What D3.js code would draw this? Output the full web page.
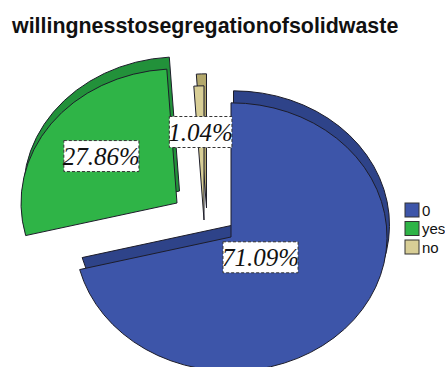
<!DOCTYPE html>
<html>
<head>
<meta charset="utf-8">
<script src="https://cdn.jsdelivr.net/npm/d3@7"></script>
<style>
  body { margin: 0; background: #fff; }
  svg { display: block; }
</style>
</head>
<body>
<div id="chart"></div>
<script>
// data
var categories = ["0", "yes", "no"];
var percents = [71.09, 27.86, 1.04];
var labels = ["71.09%", "27.86%", "1.04%"];

var colors = ["#3d55a9", "#2fb447", "#d8ce96"];
var sideColors = ["#2e4389", "#22913a", "#b3a86c"];

var w = 445, h = 367;
var cx = 231, cy = 237;      // main face centre of the unexploded slice
var rx = 156, yScaleFactor = 0.86;
var depthX = 2.5, depthY = -12;
// how far each slice is pulled out (layout only)
var explode = [[0, 0], [-54, -34], [-27, -17]];
var labelRadius = [0.24, 0.6, 0.66];

var svg = d3.select("#chart").append("svg")
  .attr("width", w)
  .attr("height", h);

svg.append("text")
  .attr("x", 12)
  .attr("y", 33)
  .attr("font-family", "Liberation Sans, Arial, sans-serif")
  .attr("font-weight", "bold")
  .attr("font-size", 21.4)
  .attr("fill", "#111")
  .text("willingnesstosegregationofsolidwaste");

var pie = d3.pie().sort(null).value(function(d) { return d; });
var arcs = pie(percents);

var arc = d3.arc().innerRadius(0).outerRadius(rx);

var slices = svg.selectAll("g.slice")
  .data(arcs)
  .enter()
  .append("g")
  .attr("class", "slice");

// side (depth) face, drawn first
slices.append("path")
  .attr("transform", function(d, i) {
    return "translate(" + (cx + explode[i][0] + depthX) + "," + (cy + explode[i][1] + depthY) + ") scale(1," + yScaleFactor + ")";
  })
  .attr("d", arc)
  .attr("fill", function(d, i) { return sideColors[i]; })
  .attr("stroke", "#1d1d2a")
  .attr("stroke-width", 1)
  .attr("vector-effect", "non-scaling-stroke");

// top face
slices.append("path")
  .attr("transform", function(d, i) {
    return "translate(" + (cx + explode[i][0]) + "," + (cy + explode[i][1]) + ") scale(1," + yScaleFactor + ")";
  })
  .attr("d", arc)
  .attr("fill", function(d, i) { return colors[i]; })
  .attr("stroke", "#1d1d2a")
  .attr("stroke-width", 1)
  .attr("vector-effect", "non-scaling-stroke");

// percent labels
arcs.forEach(function(d, i) {
  var mid = (d.startAngle + d.endAngle) / 2;
  var r = rx * labelRadius[i];
  var lx = cx + explode[i][0] + Math.sin(mid) * r;
  var ly = cy + explode[i][1] - Math.cos(mid) * r * yScaleFactor;

  var g = svg.append("g");
  var rect = g.append("rect");
  var t = g.append("text")
    .attr("x", lx)
    .attr("y", ly + 9)
    .attr("text-anchor", "middle")
    .attr("font-family", "Liberation Serif, Times New Roman, serif")
    .attr("font-style", "italic")
    .attr("font-size", 25)
    .attr("fill", "#111")
    .text(labels[i]);
  var bb = t.node().getBBox();
  rect.attr("x", lx - bb.width / 2 + 1)
    .attr("y", ly - 15)
    .attr("width", bb.width - 2)
    .attr("height", 31)
    .attr("fill", "#fff")
    .attr("stroke", "#333")
    .attr("stroke-width", 1)
    .attr("stroke-dasharray", "3,2");
});

// legend
var legend = svg.selectAll("g.legend")
  .data(categories)
  .enter()
  .append("g")
  .attr("class", "legend")
  .attr("transform", function(d, i) { return "translate(405," + (203 + i * 18.5) + ")"; });

legend.append("rect")
  .attr("width", 14)
  .attr("height", 14)
  .attr("fill", function(d, i) { return colors[i]; })
  .attr("stroke", "#333")
  .attr("stroke-width", 1);

legend.append("text")
  .attr("x", 17)
  .attr("y", 12.5)
  .attr("font-family", "Liberation Sans, Arial, sans-serif")
  .attr("font-size", 15)
  .attr("fill", "#111")
  .text(function(d) { return d; });
</script>
</body>
</html>
